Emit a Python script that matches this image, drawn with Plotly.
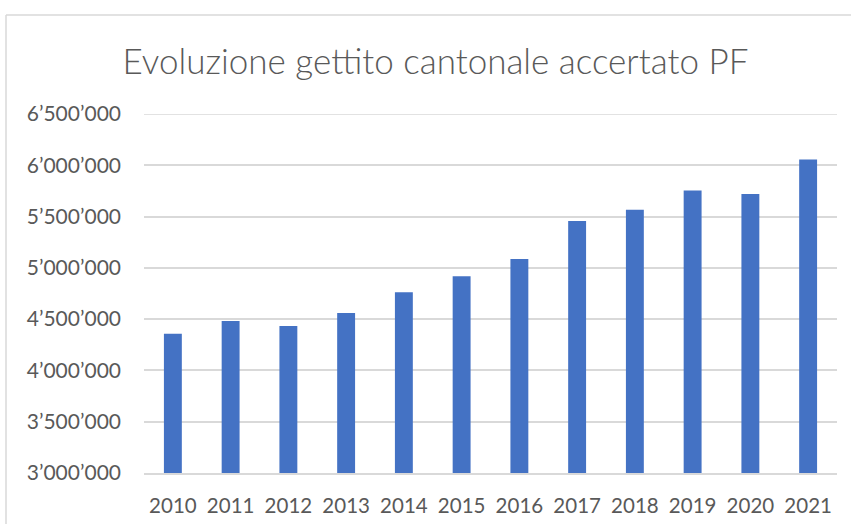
import plotly.graph_objects as go

years = ["2010", "2011", "2012", "2013", "2014", "2015", "2016", "2017", "2018", "2019", "2020", "2021"]
gettito = [4358000, 4481000, 4433000, 4559000, 4761000, 4917000, 5086000, 5456000, 5566000, 5755000, 5719000, 6057000]
y_tickvals = [3000000, 3500000, 4000000, 4500000, 5000000, 5500000, 6000000, 6500000]
y_ticktext = ["3’000’000", "3’500’000", "4’000’000", "4’500’000", "5’000’000", "5’500’000", "6’000’000", "6’500’000"]
title_text = "Evoluzione gettito cantonale accertato PF"

FONT = "Lato, 'Liberation Sans', sans-serif"
GRID = "#d9d9d9"
TXT = "#595959"

fig = go.Figure()
fig.add_trace(go.Bar(
    x=years, y=gettito,
    marker=dict(color="#4472C4", line=dict(width=0)),
    width=0.31,
))

W, H = 851, 524
L, R, T, B = 144, 14, 114, 51
pw, ph = W - L - R, H - T - B

def px_x(x):
    return (x - L) / pw

def px_y(y):
    return 1 - (y - T) / ph

bx, by = px_x(6), px_y(15)
fig.add_shape(type="line", xref="paper", yref="paper", x0=bx, x1=px_x(900), y0=by, y1=by,
              line=dict(color=GRID, width=1.5), layer="below")
fig.add_shape(type="line", xref="paper", yref="paper", x0=bx, x1=bx, y0=by, y1=px_y(600),
              line=dict(color=GRID, width=1.5), layer="below")
# top gridline (at the range edge, which plotly does not draw itself)
fig.add_shape(type="line", xref="paper", yref="y", x0=0, x1=1, y0=y_tickvals[-1], y1=y_tickvals[-1],
              line=dict(color=GRID, width=1.5), layer="below")

fig.update_layout(
    width=W, height=H,
    margin=dict(l=L, r=R, t=T, b=B, pad=0, autoexpand=False),
    paper_bgcolor="white", plot_bgcolor="white",
    showlegend=False,
    title=dict(text=title_text, x=(435.5) / W, xanchor="center", y=1 - 62 / H, yanchor="middle",
               font=dict(family=FONT, size=35, color=TXT, weight=300)),
    font=dict(family=FONT, color=TXT),
)
fig.update_xaxes(
    type="category", showgrid=False, zeroline=False, automargin=False,
    showline=True, linecolor=GRID, linewidth=1.5,
    ticks="", tickfont=dict(size=20.5, color=TXT, family=FONT),
    ticklabelstandoff=14,
)
fig.update_yaxes(
    range=[3000000, 6500000], tickvals=y_tickvals, ticktext=y_ticktext, automargin=False,
    showgrid=True, gridcolor=GRID, gridwidth=1.5, zeroline=False, showline=False,
    ticks="", tickfont=dict(size=21, color=TXT, family=FONT),
    ticklabelstandoff=22,
)

fig.write_html("out.html", config={"displayModeBar": False},
               post_script="document.body.style.margin='0';")
